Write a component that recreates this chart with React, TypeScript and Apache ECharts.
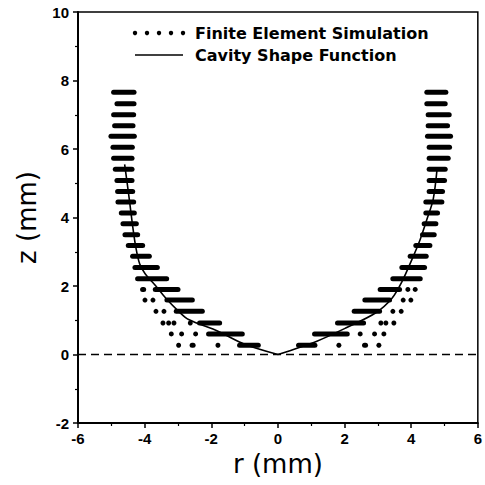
import React, { useEffect, useRef } from "react";
import * as echarts from "echarts";

// z levels (mm) of the finite element node rows
const zLevels = [
  0.27, 0.6, 0.92, 1.26, 1.59, 1.9, 2.21, 2.54, 2.87, 3.18, 3.5, 3.82,
  4.13, 4.45, 4.76, 5.08, 5.41, 5.73, 6.05, 6.37, 6.68, 7.0, 7.32, 7.66,
];

// Finite element simulation: runs of nodes [rStart, rEnd] per row, left side (r < 0)
const leftRuns: number[][][] = [
  [[-2.98, -2.98], [-2.62, -2.5], [-1.8, -1.8], [-1.22, -0.52]],
  [[-3.2, -3.2], [-2.89, -2.89], [-2.47, -2.47], [-2.15, -1.0]],
  [[-3.45, -3.45], [-3.28, -3.28], [-3.12, -3.12], [-2.63, -2.63], [-2.42, -1.68]],
  [[-3.66, -3.66], [-3.42, -3.42], [-3.12, -2.2]],
  [[-3.99, -3.99], [-3.75, -3.75], [-3.4, -2.5]],
  [[-4.13, -3.96], [-3.75, -2.93]],
  [[-4.28, -3.27]],
  [[-4.36, -3.55]],
  [[-4.43, -3.79]],
  [[-4.56, -3.99]],
  [[-4.66, -4.14]],
  [[-4.72, -4.18]],
  [[-4.77, -4.24]],
  [[-4.87, -4.26]],
  [[-4.88, -4.29]],
  [[-4.9, -4.31]],
  [[-4.95, -4.31]],
  [[-5.0, -4.31]],
  [[-5.02, -4.3]],
  [[-5.08, -4.24]],
  [[-4.97, -4.28]],
  [[-5.0, -4.26]],
  [[-4.9, -4.25]],
  [[-5.0, -4.25]],
];

// Finite element simulation: right side (r > 0)
const rightRuns: number[][][] = [
  [[0.55, 1.18], [1.83, 1.83], [2.55, 2.68], [3.03, 3.03]],
  [[1.03, 2.15], [2.47, 2.47], [2.9, 2.9], [3.18, 3.18]],
  [[1.72, 2.64], [3.09, 3.09], [3.24, 3.24], [3.48, 3.48]],
  [[2.22, 3.12], [3.45, 3.45], [3.7, 3.7]],
  [[2.54, 3.42], [3.76, 3.76], [3.99, 3.99]],
  [[3.0, 3.72], [3.9, 3.9], [4.12, 4.12]],
  [[3.38, 4.34]],
  [[3.65, 4.47]],
  [[3.9, 4.52]],
  [[4.07, 4.63]],
  [[4.27, 4.76]],
  [[4.32, 4.81]],
  [[4.37, 4.86]],
  [[4.37, 4.99]],
  [[4.47, 5.01]],
  [[4.47, 5.07]],
  [[4.47, 5.09]],
  [[4.47, 5.18]],
  [[4.47, 5.22]],
  [[4.42, 5.25]],
  [[4.44, 5.16]],
  [[4.44, 5.21]],
  [[4.4, 5.09]],
  [[4.4, 5.11]],
];

// Cavity shape function [r, z]
const curveLeft = [
  [0, 0], [-1.0, 0.3], [-1.8, 0.68], [-2.68, 1.02], [-2.98, 1.26],
  [-3.37, 1.65], [-3.67, 2.01], [-3.98, 2.35], [-4.15, 2.65],
  [-4.27, 3.16], [-4.36, 3.75], [-4.46, 4.53], [-4.6, 5.55],
];
const curveRight = [
  [0, 0], [1.17, 0.39], [2.05, 0.78], [2.94, 1.22], [3.43, 1.65],
  [3.73, 2.14], [4.02, 2.77], [4.27, 3.36], [4.47, 3.94], [4.66, 4.53],
  [4.78, 5.45],
];

// z = 0 reference
const zeroLine = [[-6, 0], [6, 0]];

const legendLabels = ["Finite Element Simulation", "Cavity Shape Function"];

export default function App() {
  const ref = useRef<HTMLDivElement>(null);
  useEffect(() => {
    const chart = echarts.init(ref.current!, null, { renderer: "svg" });
    const runData: number[][] = [];
    zLevels.forEach((z, i) => {
      leftRuns[i].forEach(([a, b]) => runData.push([a, b, z]));
      rightRuns[i].forEach(([a, b]) => runData.push([a, b, z]));
    });
    const tickFont = {
      color: "#000",
      fontFamily: "Liberation Sans",
      fontWeight: "bold" as const,
      fontSize: 15,
    };
    const nameFont = {
      color: "#000",
      fontFamily: "DejaVu Sans",
      fontSize: 26,
    };
    const legendFont = {
      fill: "#000",
      fontFamily: "DejaVu Sans",
      fontWeight: "bold" as const,
      fontSize: 16,
      verticalAlign: "middle" as const,
    };
    const lx = 135;
    const dotXs = [0, 1, 2, 3, 4].map((k) => lx + k * 12);
    chart.setOption({
      animation: false,
      backgroundColor: "#fff",
      grid: {
        left: 78,
        right: 2,
        top: 12,
        bottom: 62,
        show: true,
        borderColor: "#000",
        borderWidth: 1.5,
      },
      xAxis: {
        type: "value",
        min: -6,
        max: 6,
        interval: 2,
        name: "r (mm)",
        nameLocation: "middle",
        nameGap: 27,
        nameTextStyle: nameFont,
        axisLine: { show: true, onZero: false, lineStyle: { color: "#000", width: 2 } },
        axisTick: { show: true, inside: false, length: 5, lineStyle: { color: "#000", width: 1.5 } },
        minorTick: { show: true, splitNumber: 2, length: 3, lineStyle: { color: "#000", width: 1.2 } },
        splitLine: { show: false },
        axisLabel: { ...tickFont, margin: 8 },
      },
      yAxis: {
        type: "value",
        min: -2,
        max: 10,
        interval: 2,
        name: "z (mm)",
        nameLocation: "middle",
        nameGap: 38,
        nameTextStyle: nameFont,
        axisLine: { show: true, onZero: false, lineStyle: { color: "#000", width: 2 } },
        axisTick: { show: true, inside: false, length: 5, lineStyle: { color: "#000", width: 1.5 } },
        minorTick: { show: true, splitNumber: 2, length: 3, lineStyle: { color: "#000", width: 1.2 } },
        splitLine: { show: false },
        axisLabel: { ...tickFont, margin: 9 },
      },
      series: [
        {
          type: "line",
          data: zeroLine,
          symbol: "none",
          lineStyle: { color: "#000", width: 1.7, type: [8, 5] },
          silent: true,
        },
        {
          type: "custom",
          data: runData,
          encode: { x: [0, 1], y: 2 },
          renderItem: (params: any, api: any) => {
            const r0 = api.value(0);
            const r1 = api.value(1);
            const z = api.value(2);
            const p0 = api.coord([r0, z]);
            const p1 = api.coord([r1, z]);
            if (Math.abs(p1[0] - p0[0]) < 1) {
              return {
                type: "circle",
                shape: { cx: (p0[0] + p1[0]) / 2, cy: p0[1], r: 2.5 },
                style: { fill: "#000" },
              };
            }
            const inset = 2.3;
            let x1 = p0[0] + inset;
            let x2 = p1[0] - inset;
            if (x2 < x1) {
              const m = (x1 + x2) / 2;
              x1 = m - 0.5;
              x2 = m + 0.5;
            }
            return {
              type: "line",
              shape: { x1, y1: p0[1], x2, y2: p1[1] },
              style: { stroke: "#000", lineWidth: 5, lineCap: "round" },
            };
          },
        },
        {
          type: "line",
          data: curveLeft,
          symbol: "none",
          smooth: 0.3,
          lineStyle: { color: "#000", width: 1.6 },
        },
        {
          type: "line",
          data: curveRight,
          symbol: "none",
          smooth: 0.3,
          lineStyle: { color: "#000", width: 1.6 },
        },
      ],
      graphic: [
        ...dotXs.map((x) => ({
          type: "circle",
          shape: { cx: x, cy: 33, r: 2.2 },
          style: { fill: "#000" },
        })),
        {
          type: "line",
          shape: { x1: lx, y1: 55, x2: lx + 48, y2: 55 },
          style: { stroke: "#000", lineWidth: 1.5 },
        },
        { type: "text", x: 195, y: 33, style: { ...legendFont, text: legendLabels[0] } },
        { type: "text", x: 195, y: 55, style: { ...legendFont, text: legendLabels[1] } },
      ],
    });
    return () => chart.dispose();
  }, []);
  return (
    <div
      ref={ref}
      style={{ position: "fixed", left: 0, top: 0, width: 485, height: 485, background: "#fff" }}
    />
  );
}
